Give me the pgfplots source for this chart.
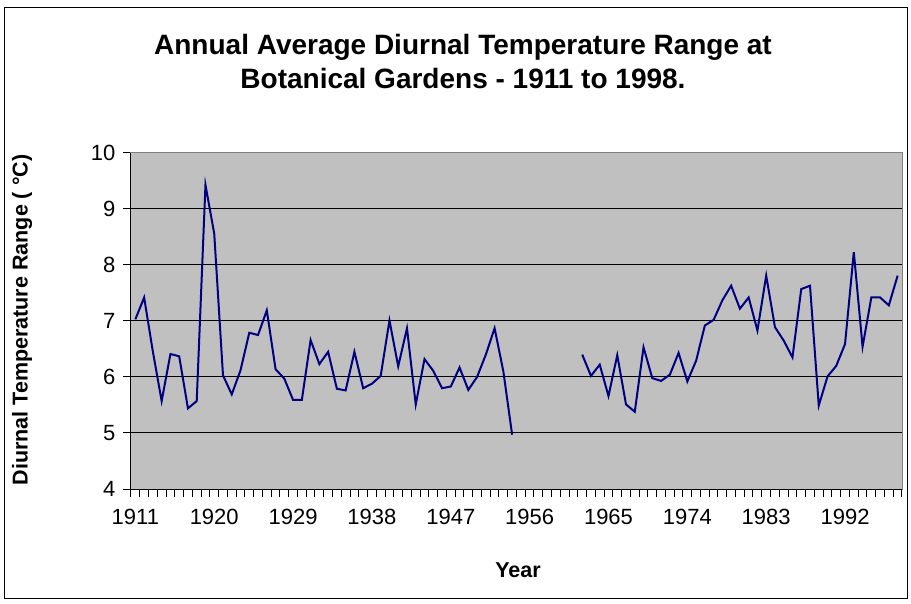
\documentclass[border=0pt]{standalone}
\usepackage{pgfplots}
\pgfplotsset{compat=1.18}
\usepackage{pgfplotstable}
\usepackage{fontspec}
\setmainfont{Liberation Sans}
\definecolor{plotbg}{RGB}{192,192,192}
\definecolor{navyline}{RGB}{0,0,128}
\definecolor{frame}{RGB}{128,128,128}
\pgfplotstableread{
year val
1911 7.03
1912 7.42
1913 6.45
1914 5.57
1915 6.41
1916 6.37
1917 5.44
1918 5.57
1919 9.43
1920 8.56
1921 6.03
1922 5.69
1923 6.12
1924 6.79
1925 6.75
1926 7.19
1927 6.14
1928 5.97
1929 5.59
1930 5.59
1931 6.66
1932 6.23
1933 6.45
1934 5.79
1935 5.76
1936 6.45
1937 5.80
1938 5.88
1939 6.02
1940 7.01
1941 6.19
1942 6.87
1943 5.51
1944 6.32
1945 6.11
1946 5.80
1947 5.83
1948 6.17
1949 5.77
1950 6.00
1951 6.40
1952 6.87
1953 6.10
1954 4.97
1955 nan
1956 nan
1957 nan
1958 nan
1959 nan
1960 nan
1961 nan
1962 6.40
1963 6.02
1964 6.22
1965 5.66
1966 6.39
1967 5.51
1968 5.38
1969 6.53
1970 5.98
1971 5.93
1972 6.04
1973 6.43
1974 5.92
1975 6.29
1976 6.92
1977 7.02
1978 7.37
1979 7.63
1980 7.22
1981 7.42
1982 6.83
1983 7.81
1984 6.89
1985 6.65
1986 6.35
1987 7.57
1988 7.63
1989 5.49
1990 6.01
1991 6.20
1992 6.59
1993 8.23
1994 6.54
1995 7.42
1996 7.42
1997 7.28
1998 7.81
}\dtrdata
\begin{document}
\begin{tikzpicture}[x=1pt,y=1pt]
\useasboundingbox (0,0) rectangle (911,603);
\draw[black, line width=1pt] (4.5,5) rectangle (907.5,595);
\node[font=\fontsize{28}{32}\selectfont\bfseries] at (463,556) {Annual Average Diurnal Temperature Range at};
\node[font=\fontsize{28}{32}\selectfont\bfseries] at (463,525) {Botanical Gardens - 1911 to 1998.};
\node[font=\fontsize{21.5}{25}\selectfont\bfseries, rotate=90] at (22,283) {Diurnal Temperature Range ( °C)};
\node[font=\fontsize{21.5}{25}\selectfont\bfseries] at (518,33) {Year};
\begin{axis}[
  at={(131pt,114pt)}, anchor=south west,
  width=771pt, height=336pt, scale only axis,
  xmin=1910.5, xmax=1998.5,
  ymin=4, ymax=10,
  ytick={4,5,...,10},
  xtick={1910.5,1911.5,...,1998.5},
  xticklabels={,,},
  extra x ticks={1911,1920,1929,1938,1947,1956,1965,1974,1983,1992},
  extra x tick labels={1911,1920,1929,1938,1947,1956,1965,1974,1983,1992},
  extra x tick style={major tick length=0pt, tick style={draw=none}},
  tick pos=left,
  tick align=outside,
  major tick length=8pt,
  tick style={black, line width=1pt},
  ymajorgrids,
  grid style={black, line width=1pt},
  axis line style={frame, line width=1pt},
  axis background/.style={fill=plotbg},
  ticklabel style={font=\fontsize{22}{26}\selectfont},
  /pgf/number format/assume math mode=true,
  xticklabel style={yshift=-17pt},
  yticklabel style={xshift=-4pt},
  unbounded coords=jump,
  clip=false,
]
\addplot[navyline, line width=2pt, mark=none] table[x=year, y=val] {\dtrdata};
\draw[black, line width=1pt] (rel axis cs:0,1) -- (rel axis cs:0,0) -- (rel axis cs:1,0);
\end{axis}
\end{tikzpicture}
\end{document}
